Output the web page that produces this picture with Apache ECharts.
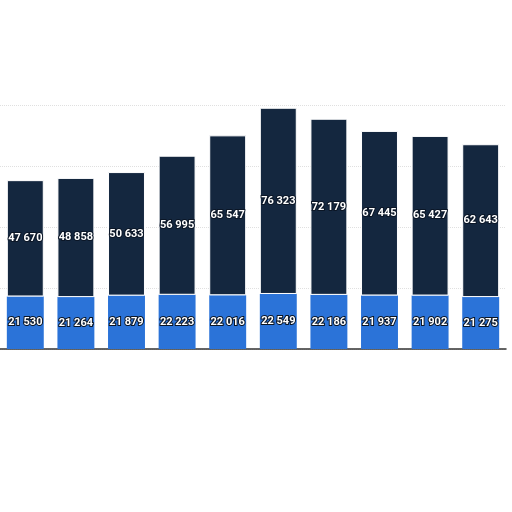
<!DOCTYPE html>
<html>
<head>
<meta charset="utf-8">
<script src="https://cdn.jsdelivr.net/npm/echarts@6/dist/echarts.min.js"></script>
<style>
  html, body { margin: 0; padding: 0; background: #fff; }
  #chart { width: 512px; height: 512px; }
</style>
</head>
<body>
<div id="chart"></div>
<script>
// ten periods, no visible labels in the picture
const categories = ['1', '2', '3', '4', '5', '6', '7', '8', '9', '10'];
const lowerValues = [21530, 21264, 21879, 22223, 22016, 22549, 22186, 21937, 21902, 21275];
const upperValues = [47670, 48858, 50633, 56995, 65547, 76323, 72179, 67445, 65427, 62643];

function fmt(v) {
  return String(v).replace(/\B(?=(\d{3})+(?!\d))/g, ' ');
}

const labelStyle = {
  show: true,
  position: 'inside',
  color: '#fff',
  fontSize: 11,
  fontWeight: 'bold',
  fontFamily: 'Roboto',
  textBorderColor: '#0b1626',
  textBorderWidth: 2,
  formatter: p => fmt(p.value)
};

const chart = echarts.init(document.getElementById('chart'));
chart.setOption({
  animation: false,
  backgroundColor: '#ffffff',
  grid: { left: 0, right: 6, top: 105, bottom: 163 },
  xAxis: {
    type: 'category',
    data: categories,
    axisLine: { lineStyle: { color: '#333', width: 1.5 } },
    axisTick: { show: false },
    axisLabel: { show: false }
  },
  yAxis: {
    type: 'value',
    min: 0,
    max: 100000,
    interval: 25000,
    axisLabel: { show: false },
    axisLine: { show: false },
    axisTick: { show: false },
    splitLine: { lineStyle: { color: '#e0e0e0', type: 'dotted' } }
  },
  series: [
    {
      type: 'bar',
      stack: 'total',
      data: lowerValues,
      barWidth: '73%',
      itemStyle: { color: '#2b73d8' },
      label: labelStyle
    },
    {
      type: 'bar',
      stack: 'total',
      data: upperValues,
      barWidth: '73%',
      itemStyle: { color: '#14273f', borderColor: '#ffffff', borderWidth: 1 },
      label: labelStyle
    }
  ]
});
</script>
</body>
</html>
